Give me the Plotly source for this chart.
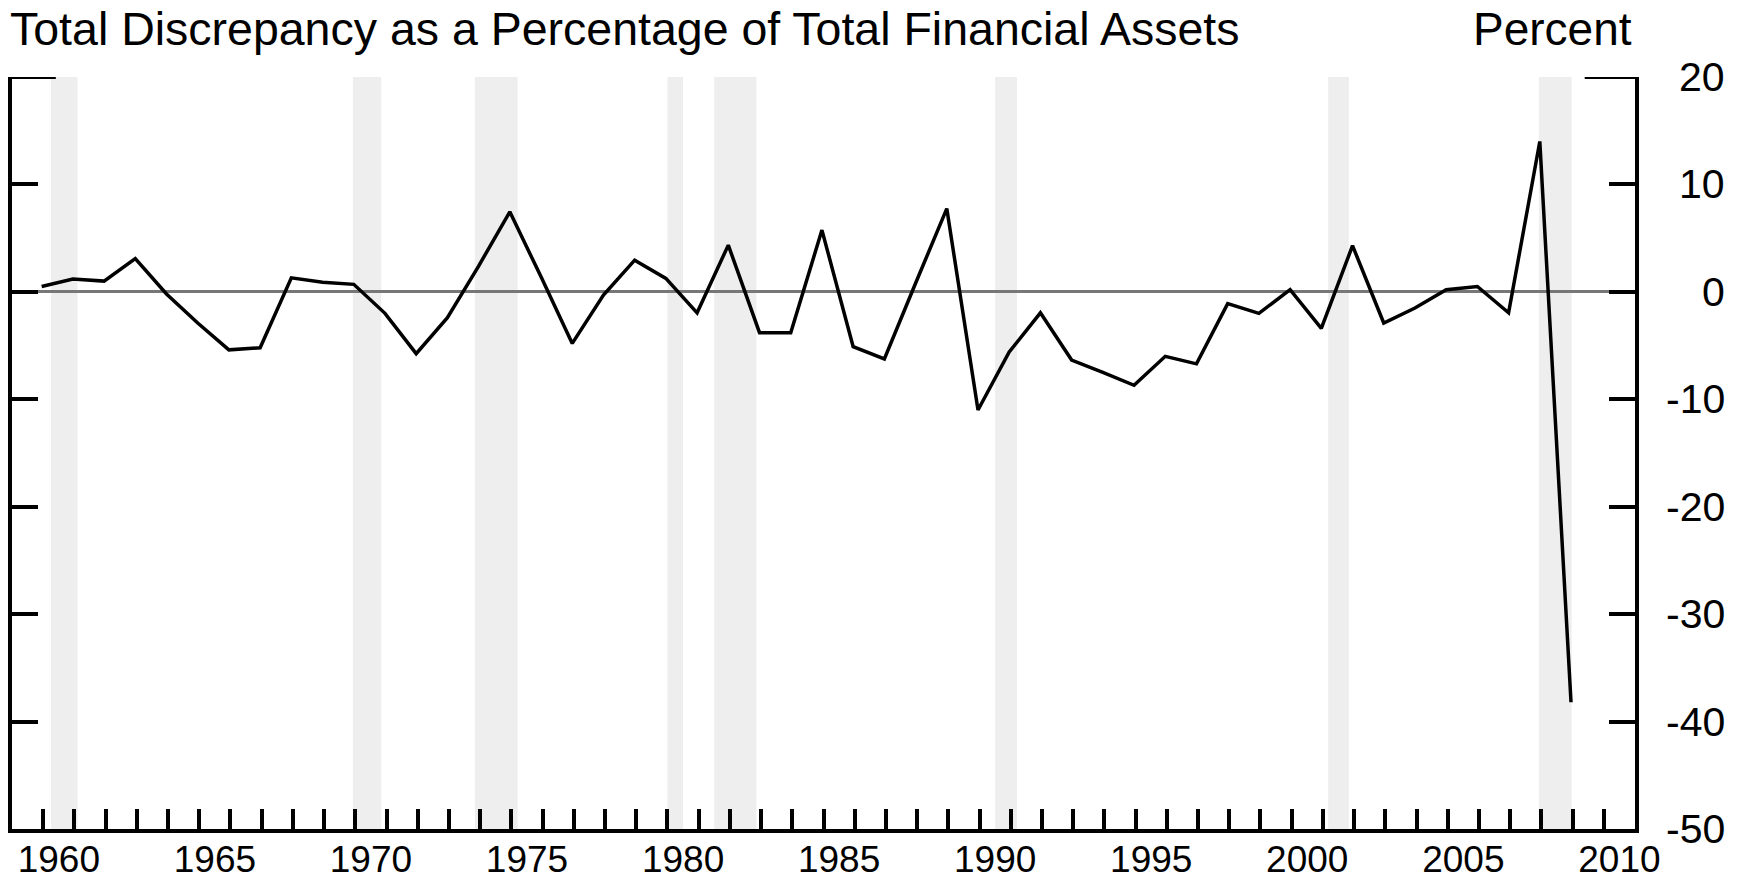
import plotly.graph_objects as go

# ---- data -------------------------------------------------------------
years = list(range(1959, 2009))
discrepancy_pct = [
    0.5, 1.2, 1.0, 3.1, -0.2, -2.9, -5.4, -5.2, 1.3, 0.9,
    0.7, -2.0, -5.75, -2.4, 2.4, 7.45, 1.4, -4.8, -0.3, 2.95,
    1.25, -1.95, 4.35, -3.8, -3.8, 5.75, -5.1, -6.25, 0.8, 7.75,
    -11.0, -5.6, -1.95, -6.35, -7.5, -8.7, -6.0, -6.7, -1.1, -2.0,
    0.2, -3.4, 4.3, -2.9, -1.5, 0.2, 0.5, -1.95, 14.0, -38.2,
]

# NBER recessions (decimal years); last one clipped at end of data
recession_start = [1960.25, 1969.92, 1973.83, 1980.0, 1981.5, 1990.5, 2001.17, 2007.92]
recession_end = [1961.10, 1970.83, 1975.20, 1980.5, 1982.85, 1991.20, 2001.83, 2008.97]

x_label_years = [1960, 1965, 1970, 1975, 1980, 1985, 1990, 1995, 2000, 2005, 2010]
x_minor_ticks = list(range(1960, 2011))
y_ticks = [20, 10, 0, -10, -20, -30, -40, -50]
y_tick_text = ["20", "10", "0", "-10", "-20", "-30", "-40", "-50"]

title_text = "Total Discrepancy as a Percentage of Total Financial Assets"
unit_text = "Percent"

# ---- figure -----------------------------------------------------------
FONT = "Liberation Sans, Arial, Helvetica, sans-serif"
x_pos = [y + 0.95 for y in years]

fig = go.Figure()
fig.add_trace(go.Scatter(
    x=x_pos, y=discrepancy_pct, mode="lines",
    line=dict(color="black", width=3.5),
    hoverinfo="skip", showlegend=False,
))

shapes = []
for s, e in zip(recession_start, recession_end):
    shapes.append(dict(type="rect", xref="x", yref="paper", x0=s, x1=e, y0=0, y1=1,
                       fillcolor="#eeeeee", line=dict(width=0), layer="below"))
# long top-of-scale ticks
shapes.append(dict(type="line", xref="paper", yref="y", x0=0, x1=0.027, y0=20, y1=20,
                   line=dict(color="black", width=4)))
shapes.append(dict(type="line", xref="paper", yref="y", x0=0.969, x1=1, y0=20, y1=20,
                   line=dict(color="black", width=4)))

annotations = [
    dict(text=title_text, xref="paper", yref="paper", x=0, y=1, xanchor="left",
         yanchor="middle", xshift=-4, yshift=48, showarrow=False,
         font=dict(family=FONT, size=46.5, color="black")),
    dict(text=unit_text, xref="paper", yref="paper", x=1, y=1, xanchor="right",
         yanchor="middle", xshift=-1, yshift=48, showarrow=False,
         font=dict(family=FONT, size=46, color="black")),
]
for v, t in zip(y_ticks, y_tick_text):
    annotations.append(dict(text=t, xref="paper", yref="y", x=1, y=v, xanchor="right",
                            yanchor="middle", xshift=92, showarrow=False,
                            font=dict(family=FONT, size=41, color="black")))

fig.update_layout(
    width=1743, height=883,
    margin=dict(l=12, r=108, t=77, b=54, autoexpand=False),
    paper_bgcolor="white", plot_bgcolor="white",
    shapes=shapes, annotations=annotations,
    xaxis=dict(
        range=[1959, 2011], showgrid=False, zeroline=False, automargin=False,
        showline=True, linecolor="black", linewidth=4,
        tickmode="array", tickvals=[y + 0.5 for y in x_label_years],
        ticktext=[str(y) for y in x_label_years], ticks="",
        ticklabelstandoff=-5,
        tickfont=dict(family=FONT, size=37, color="black"),
        minor=dict(tickmode="array", tickvals=x_minor_ticks, ticks="inside",
                   ticklen=20, tickwidth=4, tickcolor="black", showgrid=False),
    ),
    yaxis=dict(
        range=[-50, 20], side="right", showgrid=False, automargin=False,
        zeroline=True, zerolinecolor="#777777", zerolinewidth=3,
        showline=True, linecolor="black", linewidth=4, mirror="ticks",
        tickmode="array", tickvals=y_ticks, ticks="inside", ticklen=26,
        tickwidth=4, tickcolor="black", showticklabels=False,
    ),
)

# remove the default page margin so the figure fills the window exactly
fig.write_html("out.html", config={"displayModeBar": False},
               post_script="document.body.style.margin='0';")
